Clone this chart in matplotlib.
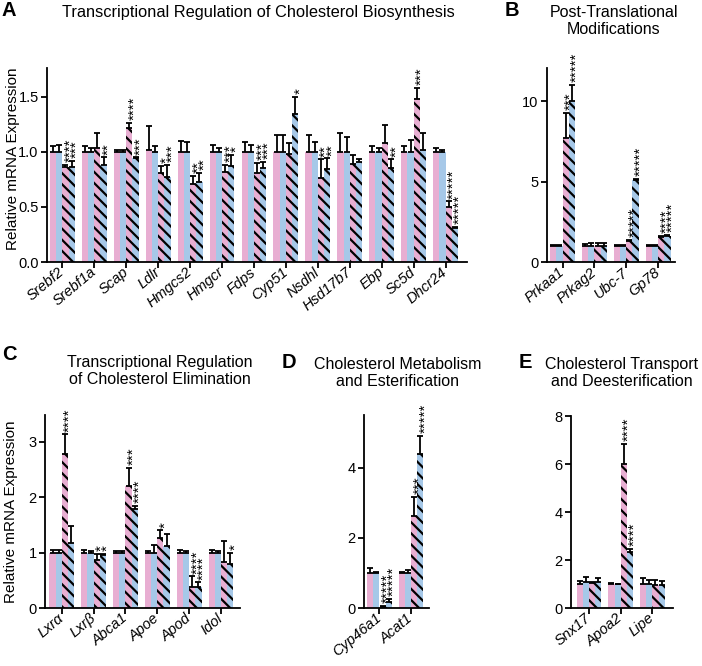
import numpy as np
import matplotlib
matplotlib.use("Agg")
import matplotlib.pyplot as plt
from matplotlib.transforms import ScaledTranslation

plt.rcParams['font.family'] = ['Liberation Sans', 'DejaVu Sans']
plt.rcParams['hatch.linewidth'] = 1.6
plt.rcParams['hatch.color'] = 'black'

PINK = '#e8aed2'
BLUE = '#a6c8e8'

# panel A: transcriptional regulation of cholesterol biosynthesis
genes_a = ['Srebf2', 'Srebf1a', 'Scap', 'Ldlr', 'Hmgcs2', 'Hmgcr', 'Fdps', 'Cyp51',
           'Nsdhl', 'Hsd17b7', 'Ebp', 'Sc5d', 'Dhcr24']
mean_a = [[1.0, 1.0, 0.86, 0.86], [1.0, 1.0, 1.03, 0.88], [1.0, 1.0, 1.22, 0.94],
          [1.02, 1.0, 0.81, 0.77], [1.0, 1.0, 0.71, 0.73], [1.0, 1.0, 0.82, 0.87],
          [1.0, 1.0, 0.81, 0.85], [1.0, 1.0, 0.98, 1.34], [1.0, 1.0, 0.76, 0.84],
          [1.0, 1.0, 0.89, 0.91], [1.0, 1.0, 1.08, 0.85], [1.0, 1.0, 1.48, 1.02],
          [1.0, 1.0, 0.50, 0.31]]
err_a = [[0.05, 0.06, 0.02, 0.06], [0.05, 0.03, 0.14, 0.07], [0.02, 0.02, 0.04, 0.01],
         [0.21, 0.05, 0.06, 0.11], [0.10, 0.09, 0.07, 0.08], [0.06, 0.03, 0.06, 0.10],
         [0.09, 0.06, 0.09, 0.06], [0.15, 0.15, 0.10, 0.16], [0.15, 0.09, 0.17, 0.10],
         [0.17, 0.13, 0.08, 0.02], [0.05, 0.03, 0.16, 0.08], [0.05, 0.11, 0.10, 0.15],
         [0.03, 0.02, 0.05, 0.01]]
stars_a = [['', '', '****', '***'], ['', '', '', '**'], ['', '', '****', '***'],
           ['', '', '*', '***'], ['', '', '**', '**'], ['', '', '***', '*'],
           ['', '', '***', '***'], ['', '', '', '*'], ['', '', '**', '**'],
           ['', '', '', ''], ['', '', '', '**'], ['', '', '***', ''],
           ['', '', '*****', '*****']]

# panel B: post-translational modifications
genes_b = ['Prkaa1', 'Prkag2', 'Ubc-7', 'Gp78']
mean_b = [[1.0, 1.0, 7.7, 10.0], [1.0, 1.0, 1.0, 1.0], [1.0, 1.0, 1.3, 5.1], [1.0, 1.0, 1.55, 1.6]]
err_b = [[0.05, 0.08, 1.55, 1.0], [0.12, 0.15, 0.15, 0.18], [0.05, 0.06, 0.05, 0.08],
         [0.08, 0.05, 0.05, 0.06]]
stars_b = [['', '', '***', '*****'], ['', '', '', ''], ['', '', '*****', '*****'],
           ['', '', '****', '*****']]

# panel C: transcriptional regulation of cholesterol elimination
genes_c = ['Lxr\u03b1', 'Lxr\u03b2', 'Abca1', 'Apoe', 'Apod', 'Idol']
mean_c = [[1.0, 1.0, 2.78, 1.18], [1.0, 1.0, 0.87, 0.96], [1.0, 1.0, 2.2, 1.78],
          [1.0, 1.0, 1.26, 1.12], [1.0, 1.0, 0.38, 0.37], [1.0, 1.0, 0.83, 0.79]]
err_c = [[0.05, 0.05, 0.35, 0.30], [0.04, 0.03, 0.11, 0.01], [0.03, 0.03, 0.32, 0.06],
         [0.03, 0.13, 0.14, 0.21], [0.05, 0.03, 0.19, 0.09], [0.05, 0.03, 0.37, 0.21]]
stars_c = [['', '', '****', ''], ['', '', '*', '*'], ['', '', '***', '****'],
           ['', '', '*', ''], ['', '', '****', '****'], ['', '', '', '*']]

# panel D: cholesterol metabolism and esterification
genes_d = ['Cyp46a1', 'Acat1']
mean_d = [[1.0, 1.0, 0.03, 0.18], [1.0, 1.0, 2.63, 4.4]]
err_d = [[0.15, 0.03, 0.02, 0.09], [0.02, 0.07, 0.54, 0.5]]
stars_d = [['', '', '*****', '*****'], ['', '', '***', '*****']]

# panel E: cholesterol transport and deesterification
genes_e = ['Snx17', 'Apoa2', 'Lipe']
mean_e = [[1.0, 1.1, 1.05, 1.1], [1.0, 1.0, 6.0, 2.35], [1.0, 1.0, 0.97, 0.97]]
err_e = [[0.12, 0.2, 0.05, 0.17], [0.03, 0.02, 0.85, 0.1], [0.25, 0.17, 0.2, 0.15]]
stars_e = [['', '', '', ''], ['', '', '****', '****'], ['', '', '', '']]

W, H = 702, 666
fig = plt.figure(figsize=(W / 100, H / 100), dpi=100)


def px_axes(x0, y0, x1, y1):
    # pixel box (left, top, right, bottom) -> figure fraction
    return fig.add_axes([x0 / W, 1 - y1 / H, (x1 - x0) / W, (y1 - y0) / H])


STAR_FS = 11


def bars(ax, genes, means, errs, stars, ymax, yticks, ytl, xlim):
    means = np.array(means)
    errs = np.array(errs)
    x = np.arange(len(genes))
    bw = 0.195
    styles = [(PINK, ''), (BLUE, ''), (PINK, '\\\\\\'), (BLUE, '\\\\\\')]
    for k, (col, hatch) in enumerate(styles):
        xs = x + (k - 1.5) * bw
        ax.bar(xs, means[:, k], bw, color=col, hatch=hatch, edgecolor='black' if hatch else col,
               linewidth=0, zorder=2)
        ax.errorbar(xs, means[:, k], yerr=[np.zeros(len(x)), errs[:, k]], fmt='none',
                    ecolor='black', elinewidth=1.3, capsize=2.3, capthick=1.3, zorder=3)
        for i in range(len(x)):
            s = stars[i][k]
            if s:
                # rotated asterisks sit high in the line box -> nudge right
                ax.annotate(s, xy=(xs[i], means[i, k] + errs[i, k]),
                            xytext=(0.33 * STAR_FS, 2.0), textcoords='offset points',
                            rotation=90, ha='center', va='bottom', fontsize=STAR_FS, zorder=4)
    ax.set_xlim(*xlim)
    ax.set_ylim(0, ymax)
    ax.set_xticks(x)
    ax.set_xticklabels(genes, rotation=40, ha='right', va='center', rotation_mode='anchor',
                       fontstyle='italic', fontsize=10.5)
    off = ScaledTranslation(7 / 100, -4 / 100, fig.dpi_scale_trans)
    for lab in ax.get_xticklabels():
        lab.set_transform(lab.get_transform() + off)
    ax.set_yticks(yticks)
    ax.set_yticklabels(ytl, fontsize=10.5)
    for sp in ['top', 'right']:
        ax.spines[sp].set_visible(False)
    for sp in ['left', 'bottom']:
        ax.spines[sp].set_linewidth(1.3)
    ax.tick_params(width=1.3, length=4, pad=2)


axA = px_axes(47, 68, 467, 262)
bars(axA, genes_a, mean_a, err_a, stars_a, 1.76, [0, 0.5, 1.0, 1.5],
     ['0.0', '0.5', '1.0', '1.5'], (-0.48, 12.67))
axA.set_ylabel('Relative mRNA Expression', fontsize=11)
axA.yaxis.set_label_coords((20 - 47) / 420, 0.53)

axB = px_axes(547, 68, 675, 262)
bars(axB, genes_b, mean_b, err_b, stars_b, 12.05, [0, 5, 10], ['0', '5', '10'], (-0.49, 3.53))

axC = px_axes(45, 415, 240, 608)
bars(axC, genes_c, mean_c, err_c, stars_c, 3.48, [0, 1, 2, 3], ['0', '1', '2', '3'], (-0.53, 5.6))
axC.set_ylabel('Relative mRNA Expression', fontsize=11)
axC.yaxis.set_label_coords((18 - 45) / 195, 0.5)

axD = px_axes(364, 415, 429, 608)
bars(axD, genes_d, mean_d, err_d, stars_d, 5.5, [0, 2, 4], ['0', '2', '4'], (-0.49, 1.57))

axE = px_axes(571, 416, 673, 608)
bars(axE, genes_e, mean_e, err_e, stars_e, 8.0, [0, 2, 4, 6, 8], ['0', '2', '4', '6', '8'],
     (-0.57, 2.65))


# panel titles and letters
def ftext(x, y, s, **kw):
    fig.text(x / W, 1 - y / H, s, **kw)


ftext(2, 11, 'A', fontsize=14.5, fontweight='bold', va='center')
ftext(258, 12, 'Transcriptional Regulation of Cholesterol Biosynthesis', fontsize=11.8,
      ha='center', va='center')
ftext(505, 11, 'B', fontsize=14.5, fontweight='bold', va='center')
ftext(614, 21, 'Post-Translational\nModifications', fontsize=11.5, ha='center', va='center',
      linespacing=1.2)
ftext(2, 354, 'C', fontsize=14.5, fontweight='bold', va='center')
ftext(160, 371, 'Transcriptional Regulation\nof Cholesterol Elimination', fontsize=11.5,
      ha='center', va='center', linespacing=1.2)
ftext(282, 362, 'D', fontsize=14.5, fontweight='bold', va='center')
ftext(398, 373, 'Cholesterol Metabolism\nand Esterification', fontsize=11.5, ha='center',
      va='center', linespacing=1.2)
ftext(519, 362, 'E', fontsize=14.5, fontweight='bold', va='center')
ftext(622, 373, 'Cholesterol Transport\nand Deesterification', fontsize=11.5, ha='center',
      va='center', linespacing=1.2)

fig.savefig('out.png', dpi=100)
